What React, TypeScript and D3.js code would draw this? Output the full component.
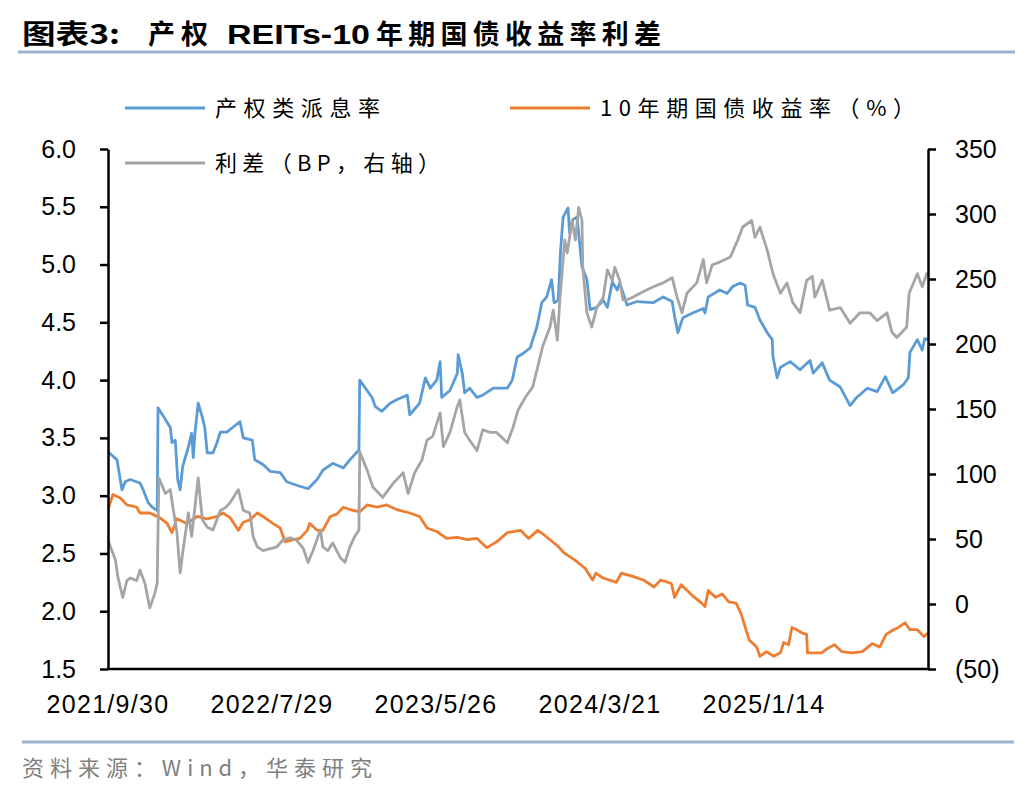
import { useEffect, useMemo, useRef } from "react";
import * as d3 from "d3";

const WIDTH = 1036;
const HEIGHT = 792;
const PLOT = { left: 108, right: 928, top: 149, bottom: 669 };
const NUM_FONT = '"Liberation Sans", Arial, sans-serif';
const CJK_FONT = '"Noto Sans CJK SC", "Noto Sans", sans-serif';

// x is the trading-day index counted from 2021/9/30
const dateLabels = ["2021/9/30", "2022/7/29", "2023/5/26", "2024/3/21", "2025/1/14"];
const dateLabelIndex = [0, 200, 400, 600, 800];
const lastIndex = 1000;

const leftTicks = [1.5, 2.0, 2.5, 3.0, 3.5, 4.0, 4.5, 5.0, 5.5, 6.0];
const rightTicks = [-50, 0, 50, 100, 150, 200, 250, 300, 350];

// 产权类派息率 (%)
const dividendYield: [number, number][] = [
    [0, 3.38], [11, 3.31], [17, 3.05], [21, 3.12], [27, 3.14], [39, 3.11], [43, 3.05],
    [49, 2.94], [54, 2.9], [60, 2.87], [61, 3.76], [70, 3.66], [76, 3.59], [78, 3.46],
    [82, 3.48], [85, 3.14], [88, 3.05], [91, 3.25], [98, 3.42], [102, 3.54], [104, 3.33],
    [106, 3.54], [110, 3.8], [115, 3.68], [118, 3.59], [121, 3.37], [128, 3.37], [133, 3.46],
    [137, 3.55], [145, 3.55], [152, 3.59], [161, 3.64], [165, 3.5], [176, 3.48], [179, 3.31],
    [189, 3.27], [198, 3.21], [210, 3.2], [218, 3.12], [230, 3.09], [244, 3.06], [255, 3.14],
    [262, 3.22], [274, 3.28], [287, 3.24], [295, 3.31], [304, 3.38], [306, 3.39], [307, 4.0],
    [316, 3.91], [322, 3.85], [326, 3.77], [334, 3.73], [344, 3.8], [352, 3.83], [365, 3.87],
    [368, 3.7], [380, 3.8], [387, 4.02], [393, 3.93], [401, 4.0], [405, 4.16], [407, 3.85],
    [417, 3.91], [426, 4.06], [427, 4.22], [432, 4.06], [435, 3.89], [441, 3.93], [450, 3.85],
    [457, 3.87], [470, 3.93], [487, 3.93], [493, 4.0], [499, 4.2], [506, 4.23], [515, 4.28],
    [518, 4.35], [523, 4.46], [529, 4.67], [535, 4.72], [541, 4.87], [544, 4.67], [549, 4.69],
    [552, 5.13], [555, 5.41], [561, 5.49], [563, 5.27], [567, 5.39], [572, 5.41], [578, 4.98],
    [584, 4.87], [588, 4.61], [596, 4.63], [604, 4.69], [609, 4.63], [615, 4.85], [621, 4.78],
    [624, 4.84], [633, 4.65], [645, 4.68], [665, 4.67], [677, 4.72], [688, 4.68], [691, 4.55],
    [695, 4.41], [701, 4.54], [713, 4.58], [726, 4.62], [728, 4.58], [732, 4.72], [746, 4.78],
    [755, 4.75], [762, 4.81], [771, 4.84], [777, 4.82], [780, 4.65], [789, 4.63], [795, 4.52],
    [804, 4.41], [810, 4.35], [811, 4.2], [816, 4.02], [820, 4.11], [832, 4.16], [844, 4.09],
    [856, 4.17], [860, 4.06], [871, 4.15], [880, 4.0], [893, 3.94], [905, 3.78], [913, 3.85],
    [926, 3.93], [938, 3.9], [948, 4.03], [957, 3.89], [970, 3.96], [976, 4.02], [978, 4.24],
    [987, 4.35], [993, 4.26], [996, 4.36], [1000, 4.35],
];

// 10年期国债收益率 (%)
const bondYield: [number, number][] = [
    [0, 2.88], [6, 3.01], [15, 2.98], [23, 2.92], [35, 2.9], [39, 2.85], [51, 2.85],
    [63, 2.81], [72, 2.76], [78, 2.68], [84, 2.8], [96, 2.76], [109, 2.82], [121, 2.8],
    [133, 2.82], [140, 2.85], [149, 2.81], [159, 2.7], [165, 2.77], [173, 2.79], [182, 2.85],
    [189, 2.82], [201, 2.76], [210, 2.72], [216, 2.6], [226, 2.62], [234, 2.63], [243, 2.7],
    [246, 2.76], [255, 2.7], [262, 2.7], [271, 2.82], [279, 2.84], [287, 2.9], [295, 2.88],
    [307, 2.86], [316, 2.92], [328, 2.9], [340, 2.92], [352, 2.88], [368, 2.85], [380, 2.82],
    [389, 2.72], [401, 2.69], [413, 2.63], [426, 2.64], [438, 2.62], [450, 2.63], [462, 2.55],
    [474, 2.6], [487, 2.68], [503, 2.7], [513, 2.63], [524, 2.7], [532, 2.66], [549, 2.56],
    [557, 2.5], [570, 2.44], [582, 2.37], [591, 2.27], [595, 2.33], [603, 2.29], [620, 2.25],
    [626, 2.33], [641, 2.3], [653, 2.27], [666, 2.21], [674, 2.27], [687, 2.24], [691, 2.12],
    [699, 2.23], [712, 2.14], [724, 2.07], [728, 2.04], [732, 2.18], [741, 2.12], [749, 2.15],
    [757, 2.08], [766, 2.07], [772, 1.98], [778, 1.84], [782, 1.75], [791, 1.69], [795, 1.61],
    [803, 1.65], [812, 1.61], [820, 1.64], [824, 1.73], [830, 1.71], [834, 1.86], [840, 1.84],
    [847, 1.81], [852, 1.8], [853, 1.64], [870, 1.64], [878, 1.68], [886, 1.71], [895, 1.65],
    [907, 1.64], [920, 1.65], [932, 1.72], [941, 1.69], [949, 1.8], [958, 1.84], [964, 1.86],
    [972, 1.9], [978, 1.84], [987, 1.84], [995, 1.78], [1000, 1.81],
];

// 利差 (BP, right axis)
const spreadBp: [number, number][] = [
    [0, 49], [9, 34], [12, 21], [18, 5], [23, 18], [27, 20], [35, 18], [39, 26], [45, 16],
    [51, -3], [57, 8], [60, 16], [62, 97], [70, 85], [76, 88], [79, 75], [84, 55], [88, 24],
    [91, 39], [98, 70], [102, 52], [110, 97], [115, 65], [121, 59], [128, 57], [137, 72],
    [143, 74], [149, 78], [159, 88], [165, 72], [173, 70], [177, 52], [182, 44], [189, 41],
    [206, 44], [213, 49], [222, 51], [230, 49], [238, 43], [244, 32], [250, 41], [259, 57],
    [262, 44], [268, 41], [274, 47], [283, 36], [289, 32], [295, 44], [301, 52], [306, 57],
    [307, 117], [316, 103], [323, 90], [335, 82], [348, 93], [360, 101], [366, 85], [374, 101],
    [383, 111], [389, 126], [396, 129], [405, 147], [409, 121], [417, 132], [426, 152],
    [429, 157], [435, 132], [441, 126], [450, 118], [457, 134], [466, 132], [474, 132],
    [487, 124], [494, 136], [500, 149], [509, 159], [518, 167], [527, 190], [530, 198],
    [539, 213], [543, 226], [548, 203], [551, 234], [557, 280], [560, 270], [566, 295],
    [570, 280], [574, 305], [578, 295], [579, 259], [584, 224], [590, 213], [596, 228],
    [604, 236], [609, 257], [615, 249], [618, 259], [624, 249], [628, 234], [633, 234],
    [640, 236], [649, 239], [665, 244], [677, 247], [688, 251], [694, 236], [700, 224],
    [706, 239], [718, 247], [726, 265], [730, 247], [737, 261], [746, 263], [759, 267],
    [768, 280], [774, 290], [785, 295], [789, 282], [795, 290], [804, 272], [811, 254],
    [820, 239], [828, 247], [835, 232], [844, 224], [852, 249], [859, 252], [862, 236],
    [871, 249], [880, 226], [893, 228], [905, 216], [917, 224], [929, 224], [938, 218],
    [950, 224], [956, 209], [962, 205], [974, 213], [977, 239], [987, 254], [993, 244],
    [999, 255],
];

const BLUE = "#5B9BD5";
const ORANGE = "#ED7D31";
const GRAY = "#A5A5A5";
const RULE = "#9DB2CC";

function App() {
    const leftAxisRef = useRef<SVGGElement>(null);
    const rightAxisRef = useRef<SVGGElement>(null);

    const xScale = useMemo(
        () => d3.scaleLinear().domain([0, lastIndex]).range([PLOT.left, PLOT.right]),
        []
    );
    const yLeft = useMemo(
        () => d3.scaleLinear().domain([1.5, 6.0]).range([PLOT.bottom, PLOT.top]),
        []
    );
    const yRight = useMemo(
        () => d3.scaleLinear().domain([-50, 350]).range([PLOT.bottom, PLOT.top]),
        []
    );

    // axes drawn by d3
    useEffect(() => {
        const left = d3.select(leftAxisRef.current);
        left.selectAll("*").remove();
        left.call(
            d3
                .axisLeft(yLeft)
                .tickValues(leftTicks)
                .tickFormat(d3.format(".1f"))
                .tickSize(8)
                .tickSizeOuter(0)
                .tickPadding(24)
        );
        const right = d3.select(rightAxisRef.current);
        right.selectAll("*").remove();
        right.call(
            d3
                .axisRight(yRight)
                .tickValues(rightTicks)
                .tickFormat((d) => {
                    const v = d as number;
                    return v < 0 ? `(${Math.abs(v)})` : `${v}`;
                })
                .tickSize(8)
                .tickSizeOuter(0)
                .tickPadding(19)
        );
        [left, right].forEach((g) => {
            g.attr("font-family", NUM_FONT).attr("font-size", 25);
            g.selectAll("path.domain").attr("stroke", "#000").attr("stroke-width", 2.5);
            g.selectAll(".tick line").attr("stroke", "#000").attr("stroke-width", 2.5);
            g.selectAll(".tick text").attr("fill", "#000");
        });
    }, [yLeft, yRight]);

    const leftLine = d3
        .line<[number, number]>()
        .x((d) => xScale(d[0]))
        .y((d) => yLeft(d[1]));
    const rightLine = d3
        .line<[number, number]>()
        .x((d) => xScale(d[0]))
        .y((d) => yRight(d[1]));

    const legend = [
        { label: "产权类派息率", color: BLUE, x: 125, y: 108, len: 165 },
        { label: "10年期国债收益率（%）", color: ORANGE, x: 510, y: 108, len: 315 },
        { label: "利差（BP，右轴）", color: GRAY, x: 125, y: 163, len: 225 },
    ];

    return (
        <div style={{ position: "absolute", left: 0, top: 0 }}>
            <svg width={WIDTH} height={HEIGHT} style={{ display: "block", background: "#fff" }}>
                {/* title */}
                <g fontFamily={CJK_FONT} fontWeight={700} fontSize={27} fill="#000">
                    <text x={22} y={44} textLength={98} lengthAdjust="spacingAndGlyphs">
                        图表3:
                    </text>
                    <text x={148} y={44} textLength={60} lengthAdjust="spacing">
                        产权
                    </text>
                    <text
                        x={227}
                        y={44}
                        fontFamily={NUM_FONT}
                        textLength={143}
                        lengthAdjust="spacingAndGlyphs"
                    >
                        REITs-10
                    </text>
                    <text x={376} y={44} textLength={285} lengthAdjust="spacing">
                        年期国债收益率利差
                    </text>
                </g>
                <line x1={18} x2={1015} y1={52} y2={52} stroke={RULE} strokeWidth={3} />

                {/* legend */}
                {legend.map((l) => (
                    <g key={l.label}>
                        <line x1={l.x} x2={l.x + 80} y1={l.y} y2={l.y} stroke={l.color} strokeWidth={3} />
                        <text
                            x={l.x + 90}
                            y={l.y}
                            dy="0.36em"
                            fontFamily={CJK_FONT}
                            fontSize={22}
                            textLength={l.len}
                            lengthAdjust="spacing"
                            fill="#000"
                        >
                            {l.label}
                        </text>
                    </g>
                ))}

                {/* series */}
                <path d={leftLine(dividendYield) as string} fill="none" stroke={BLUE} strokeWidth={2.8} strokeLinejoin="round" />
                <path d={leftLine(bondYield) as string} fill="none" stroke={ORANGE} strokeWidth={2.8} strokeLinejoin="round" />
                <path d={rightLine(spreadBp) as string} fill="none" stroke={GRAY} strokeWidth={2.8} strokeLinejoin="round" />

                {/* axes */}
                <g ref={leftAxisRef} transform={`translate(${PLOT.left},0)`} />
                <g ref={rightAxisRef} transform={`translate(${PLOT.right},0)`} />
                <line x1={PLOT.left} x2={PLOT.right} y1={PLOT.bottom} y2={PLOT.bottom} stroke="#000" strokeWidth={2.5} />
                {dateLabels.map((lab, i) => (
                    <text
                        key={lab}
                        x={xScale(dateLabelIndex[i])}
                        y={713}
                        textAnchor="middle"
                        fontFamily={NUM_FONT}
                        fontSize={25}
                        letterSpacing={1.3}
                        fill="#000"
                    >
                        {lab}
                    </text>
                ))}

                {/* source */}
                <line x1={22} x2={1014} y1={742} y2={742} stroke={RULE} strokeWidth={3} />
                <text
                    x={22}
                    y={776}
                    fontFamily={CJK_FONT}
                    fontSize={22}
                    fill="#7F7F7F"
                    textLength={350}
                    lengthAdjust="spacing"
                >
                    资料来源：Wind，华泰研究
                </text>
            </svg>
        </div>
    );
}

export default App;
